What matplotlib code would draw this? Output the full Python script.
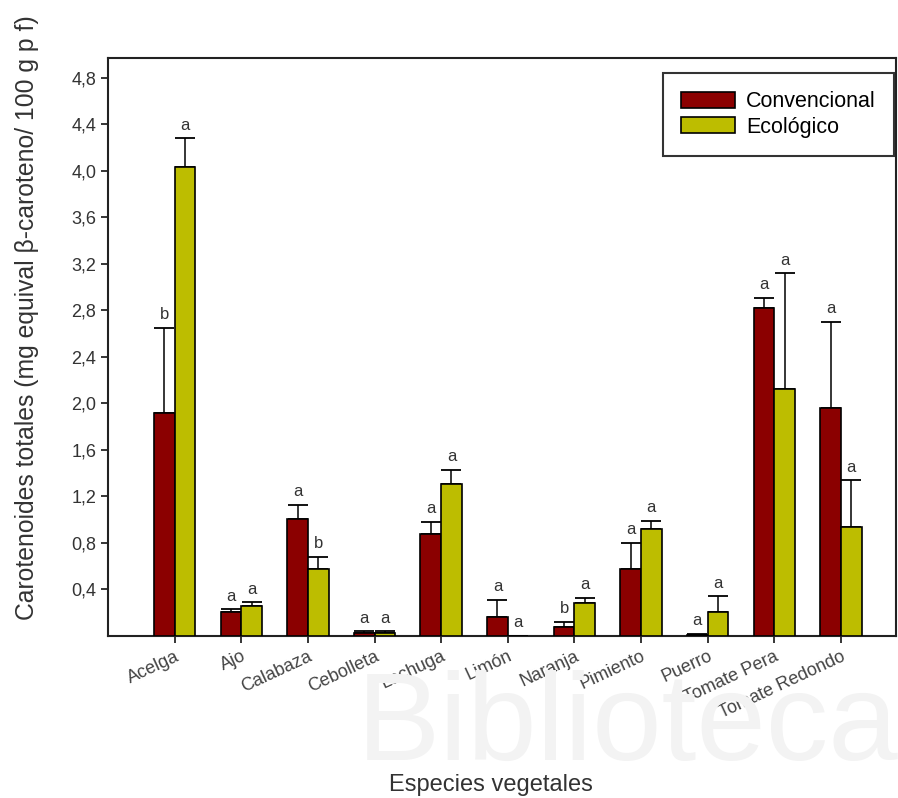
import matplotlib
matplotlib.use("Agg")
import matplotlib.pyplot as plt
import numpy as np

plt.rcParams['font.family'] = ['Liberation Sans', 'DejaVu Sans']

## datos

especies = ['Acelga', 'Ajo', 'Calabaza', 'Cebolleta', 'Lechuga', 'Limón',
            'Naranja', 'Pimiento', 'Puerro', 'Tomate Pera', 'Tomate Redondo']

conv = [1.92, 0.21, 1.01, 0.03, 0.88, 0.16, 0.08, 0.58, 0.01, 2.82, 1.96]
conv_err = [0.73, 0.02, 0.12, 0.01, 0.10, 0.15, 0.04, 0.22, 0.01, 0.09, 0.74]
conv_let = ['b', 'a', 'a', 'a', 'a', 'a', 'b', 'a', 'a', 'a', 'a']

eco = [4.03, 0.26, 0.58, 0.03, 1.31, 0.0, 0.28, 0.92, 0.21, 2.12, 0.94]
eco_err = [0.25, 0.03, 0.10, 0.01, 0.12, 0.0, 0.05, 0.07, 0.13, 1.00, 0.40]
eco_let = ['a', 'a', 'b', 'a', 'a', 'a', 'a', 'a', 'a', 'a', 'a']

yticks = [0.4, 0.8, 1.2, 1.6, 2.0, 2.4, 2.8, 3.2, 3.6, 4.0, 4.4, 4.8]

## figura

fig = plt.figure(figsize=(8.98, 7.98), dpi=100)
ax = fig.add_axes([108/898, 1-636/798, 1-108/898-0.002, (636-58)/798])

x = np.arange(len(especies))
w = 0.31
c_conv = '#8b0000'
c_eco = '#bdbd00'

ax.bar(x - w/2, conv, w, color=c_conv, edgecolor='black', linewidth=1.2,
       label='Convencional', zorder=3)
ax.bar(x + w/2, eco, w, color=c_eco, edgecolor='black', linewidth=1.2,
       label='Ecológico', zorder=3)

ax.errorbar(x - w/2, conv, yerr=[np.zeros(len(conv)), conv_err], fmt='none',
            ecolor='black', elinewidth=1.1, capsize=7, capthick=1.3, zorder=2)
ax.errorbar(x + w/2, eco, yerr=[np.zeros(len(eco)), eco_err], fmt='none',
            ecolor='black', elinewidth=1.1, capsize=7, capthick=1.3, zorder=2)

# letras de significacion
for i in range(len(especies)):
    ax.annotate(conv_let[i], (x[i] - w/2, conv[i] + conv_err[i]),
                xytext=(0, 4), textcoords='offset points', ha='center',
                va='bottom', fontsize=12, color='#333333')
    ax.annotate(eco_let[i], (x[i] + w/2, eco[i] + eco_err[i]),
                xytext=(0, 4), textcoords='offset points', ha='center',
                va='bottom', fontsize=12, color='#333333')

ax.set_xlim(-1, 10.83)
ax.set_ylim(0, 4.97)
ax.set_yticks(yticks)
ax.set_yticklabels([('%.1f' % v).replace('.', ',') for v in yticks],
                   fontsize=13, color='#333333')
ax.set_xticks(x)
ax.set_xticklabels(especies, rotation=25, ha='right', rotation_mode='anchor',
                   fontsize=13, color='#444444')
ax.tick_params(axis='both', direction='out', length=5, width=1.1)

for s in ax.spines.values():
    s.set_linewidth(1.5)
    s.set_color('#222222')

fig.text(27/898, 1-318/798,
         'Carotenoides totales (mg equival β-caroteno/ 100 g p f)',
         rotation=90, ha='center', va='center', fontsize=17.8, color='#333333')
fig.text(491/898, 1-785/798, 'Especies vegetales', ha='center', va='center',
         fontsize=17, color='#333333')

# marca de agua de fondo
fig.text(628/898, 1-728/798, 'Biblioteca', ha='center', va='center',
         fontsize=90, color='#f3f3f3', zorder=0)

leg = ax.legend(loc='upper left', bbox_to_anchor=(663/898, 1-73/798),
                bbox_transform=fig.transFigure, fontsize=15.5,
                fancybox=False, edgecolor='#333333', framealpha=1,
                handlelength=2.5, handleheight=0.8, borderpad=0.85,
                labelspacing=0.2, borderaxespad=0, handletextpad=0.5)
leg.get_frame().set_linewidth(1.5)

fig.savefig('out.png', dpi=100)
